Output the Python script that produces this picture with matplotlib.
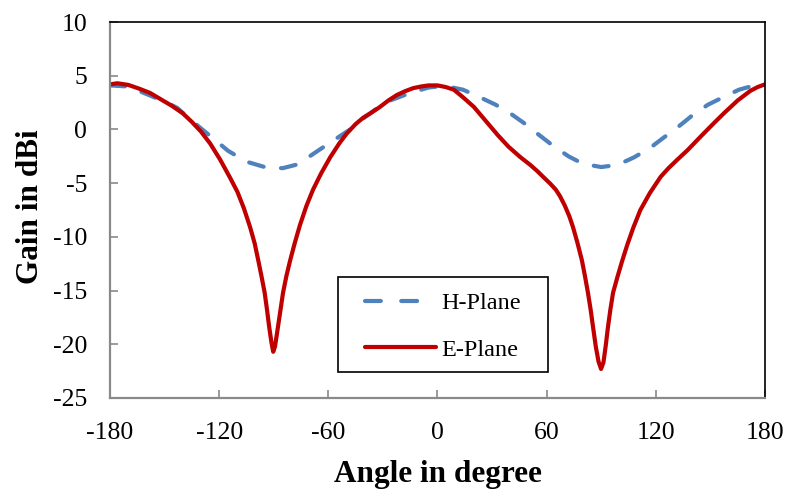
import matplotlib
matplotlib.use("Agg")
import matplotlib.pyplot as plt
from matplotlib.patches import Rectangle
from matplotlib.lines import Line2D

# H-plane (dashed blue)
h_angle = [-180, -170, -160, -150, -143, -135, -125, -115, -105, -95, -90, -85,
           -78, -72, -65, -57, -48, -41, -33, -26, -15, -5, 0, 7, 14, 22, 32,
           40, 47.5, 55, 63, 72, 80, 90, 99, 108, 117, 124, 132, 140, 148.6,
           157, 165.7, 172, 180]
h_gain = [4.1, 4.0, 3.3, 2.6, 2.0, 0.8, -0.6, -2.0, -3.0, -3.5, -3.6, -3.6,
          -3.3, -2.7, -1.9, -1.0, 0.0, 1.0, 2.0, 2.7, 3.4, 3.9, 4.0, 3.95, 3.7,
          3.1, 2.3, 1.5, 0.6, -0.4, -1.45, -2.5, -3.2, -3.5, -3.3, -2.6, -1.7,
          -0.8, 0.2, 1.3, 2.3, 3.0, 3.7, 4.0, 4.2]

# E-plane (solid red)
e_angle = [-180, -176, -170, -164, -158, -152, -146, -140, -135, -130, -125,
           -119.5, -114, -110, -106.5, -103, -100.5, -98.5, -96.7, -95, -93.7,
           -92.5, -91.3, -90.3, -89.3, -88.5, -87.7, -86.3, -84.9, -83, -81,
           -78.5, -75.6, -72, -68.4, -64, -59, -54, -50, -45, -40.8, -36,
           -31.6, -27, -22.4, -18, -13.3, -9, -5, 0, 4.5, 9, 14, 20, 26, 33,
           39, 45.7, 51, 55, 58, 62, 65, 67.3, 70, 72.5, 74.5, 77, 79.4, 81,
           82.7, 84.2, 85.5, 87, 88.5, 89.9, 91.2, 92.5, 93.7, 95, 96.5, 98.8,
           101.4, 104.3, 107.5, 111.5, 116.8, 122.7, 127, 131.6, 137.6, 145,
           152, 158, 165, 172, 176, 180]
e_gain = [4.2, 4.3, 4.15, 3.8, 3.4, 2.8, 2.2, 1.5, 0.7, -0.2, -1.3,
          -2.8, -4.5, -5.8, -7.3, -9.1, -10.6, -12.2, -13.7, -15.2, -16.8,
          -18.4, -19.8, -20.7, -20.2, -19.3, -18.4, -16.8, -15.2, -13.6, -12.2,
          -10.6, -8.9, -7.1, -5.6, -4.1, -2.6, -1.3, -0.4, 0.5, 1.1, 1.6,
          2.1, 2.7, 3.2, 3.55, 3.85, 4.0, 4.1, 4.1, 3.95, 3.7, 3.0, 2.1, 0.9,
          -0.5, -1.6, -2.6, -3.3, -3.9, -4.4, -5.05, -5.6, -6.2, -7.1, -8.1,
          -9.1, -10.6, -12.2, -13.6, -15.2, -16.8, -18.4, -20.2, -21.6, -22.3,
          -21.7, -20.1, -18.4, -16.8, -15.2, -13.8, -12.3, -10.75, -9.2, -7.5,
          -5.9, -4.4, -3.6, -2.85, -1.9, -0.6, 0.6, 1.6, 2.7, 3.6, 3.95, 4.2]

x_ticks = [-180, -120, -60, 0, 60, 120, 180]
y_ticks = [10, 5, 0, -5, -10, -15, -20, -25]

blue = '#4F81BD'
red = '#C00000'

plt.rcParams['font.family'] = ['Liberation Serif', 'DejaVu Serif']
plt.rcParams['axes.unicode_minus'] = False

fig = plt.figure(figsize=(7.87, 4.9), dpi=100)
ax = fig.add_axes([0.1398, 0.1878, 0.972 - 0.1398, 0.955 - 0.1878])

ax.plot(h_angle, h_gain, color=blue, linewidth=3, linestyle=(0, (3.6, 4.2)),
        dash_capstyle='round')
ax.plot(e_angle, e_gain, color=red, linewidth=3,
        solid_capstyle='round', solid_joinstyle='round')

ax.set_xlim(-180, 180)
ax.set_ylim(-25, 10)
ax.set_xticks(x_ticks)
ax.set_yticks(y_ticks)

for side in ['left', 'bottom']:
    ax.spines[side].set_color('#898989')
    ax.spines[side].set_linewidth(1.6)
for side in ['top', 'right']:
    ax.spines[side].set_color('black')
    ax.spines[side].set_linewidth(1.2)

ax.tick_params(axis='both', direction='in', length=6, width=1.2, color='#898989',
               labelsize=18.5)
ax.tick_params(axis='y', pad=16.5)
ax.tick_params(axis='x', pad=17)

ax.set_xlabel('Angle in degree', fontsize=22.5, fontweight='bold')
ax.set_ylabel('Gain in dBi', fontsize=22.5, fontweight='bold')
ax.xaxis.set_label_coords(0.5, -0.165)
ax.yaxis.set_label_coords(-0.10, 0.508)

# legend box drawn as its own frame
ax.add_patch(Rectangle((0.348, 0.069), 0.321, 0.253, transform=ax.transAxes,
                       facecolor='white', edgecolor='black', linewidth=1.2,
                       zorder=4))
handles = [Line2D([], [], color=blue, linewidth=3, linestyle=(0, (3.8, 4.9)),
                  dash_capstyle='round'),
           Line2D([], [], color=red, linewidth=3, solid_capstyle='round')]
leg = ax.legend(handles, ['H-Plane', 'E-Plane'], loc='center',
                bbox_to_anchor=(0.5084, 0.190), fontsize=17.5,
                frameon=False, handlelength=2.92, handletextpad=0.2,
                labelspacing=1.0, borderpad=0, borderaxespad=0)
leg.set_zorder(5)

fig.savefig('out.png', dpi=100)
